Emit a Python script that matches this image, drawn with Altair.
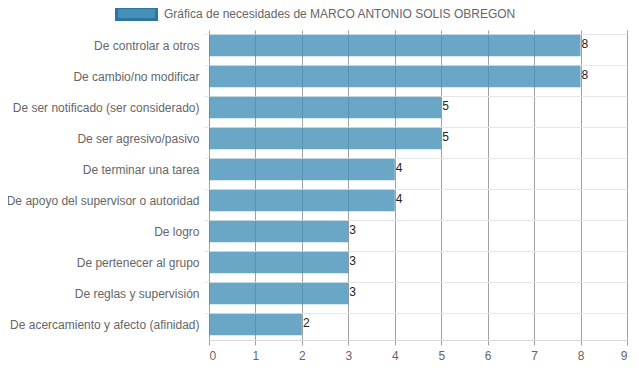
import altair as alt
import pandas as pd

categories = [
    "De controlar a otros",
    "De cambio/no modificar",
    "De ser notificado (ser considerado)",
    "De ser agresivo/pasivo",
    "De terminar una tarea",
    "De apoyo del supervisor o autoridad",
    "De logro",
    "De pertenecer al grupo",
    "De reglas y supervisión",
    "De acercamiento y afecto (afinidad)",
]
values = [8, 8, 5, 5, 4, 4, 3, 3, 3, 2]
series_name = "Gráfica de necesidades de MARCO ANTONIO SOLIS OBREGON"

df = pd.DataFrame({"cat": categories, "val": values, "serie": [series_name] * len(values)})

FONT = "Liberation Sans"

y_enc = alt.Y(
    "cat:N",
    sort=categories,
    title=None,
    scale=alt.Scale(paddingInner=0.3, paddingOuter=0.15),
    axis=alt.Axis(
        bandPosition=0,
        grid=True,
        gridColor="#e6e6e6",
        gridWidth=1,
        domain=False,
        ticks=True,
        tickColor="#e6e6e6",
        tickSize=5,
        labelFont=FONT,
        labelFontSize=12,
        labelColor="#666666",
        labelPadding=5,
        labelLimit=300,
    ),
)

x_enc = alt.X(
    "val:Q",
    title=None,
    scale=alt.Scale(domain=[0, 9], nice=False),
    axis=alt.Axis(
        values=list(range(10)),
        grid=True,
        gridColor="#a0a0a0",
        gridWidth=1,
        domain=True,
        domainColor="#d9d9d9",
        ticks=True,
        tickColor="#a0a0a0",
        tickSize=5,
        labelFont=FONT,
        labelFontSize=12,
        labelColor="#666666",
        labelPadding=5,
        format="d",
    ),
)

bars = alt.Chart(df).mark_bar(opacity=0.8).encode(
    x=x_enc,
    y=y_enc,
    color=alt.Color(
        "serie:N",
        scale=alt.Scale(range=["#4590b8"]),
        legend=alt.Legend(
            title=None,
            orient="none",
            legendX=-94,
            legendY=-38,
            symbolType="M-1,-0.3L1,-0.3L1,0.3L-1,0.3Z",
            symbolSize=1600,
            symbolStrokeColor="#2e76a0",
            symbolStrokeWidth=3,
            symbolFillColor="#6fa8c8",
            symbolOpacity=1,
            labelFont=FONT,
            labelFontSize=12,
            labelColor="#666666",
            labelOffset=6,
            labelLimit=500,
            padding=0,
        ),
    ),
)

labels = alt.Chart(df).mark_text(
    align="left", baseline="middle", dx=1, dy=-2, font=FONT, fontSize=12, color="#222222"
).encode(
    x=alt.X("val:Q"),
    y=alt.Y("cat:N", sort=categories),
    text=alt.Text("val:Q"),
)

chart = (
    alt.layer(bars, labels)
    .properties(
        width=418,
        height=310,
        autosize=alt.AutoSizeParams(type="none"),
        padding={"left": 201, "top": 22, "right": 4, "bottom": 23},
    )
    .configure_view(stroke=None)
)

chart.save("out.html", embed_options={"renderer": "svg", "actions": False})
